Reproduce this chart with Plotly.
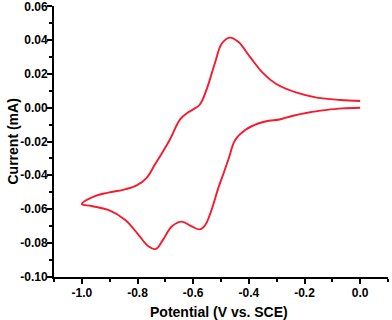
import plotly.graph_objects as go

# Cyclic voltammogram: cathodic sweep (0 -> -1.0 V) then anodic sweep (-1.0 -> 0 V)
potential_fwd = [0.0, -0.065, -0.125, -0.185, -0.245, -0.29, -0.328, -0.364, -0.413,
                 -0.449, -0.472, -0.49, -0.508, -0.538, -0.556, -0.575, -0.605, -0.641,
                 -0.677, -0.708, -0.734, -0.761, -0.797, -0.845, -0.905, -0.965, -1.0]
current_fwd = [0.0, -0.0004, -0.0014, -0.0028, -0.0049, -0.0070, -0.0077, -0.0092, -0.0132,
               -0.0191, -0.0299, -0.0385, -0.0467, -0.0624, -0.0693, -0.0720, -0.0703, -0.0674,
               -0.0703, -0.0781, -0.0836, -0.0820, -0.0751, -0.0663, -0.0605, -0.0582, -0.0570]

potential_rev = [-0.953, -0.905, -0.845, -0.803, -0.767, -0.737, -0.72, -0.683, -0.647,
                 -0.620, -0.600, -0.576, -0.552, -0.522, -0.497, -0.468, -0.438, -0.396, -0.348,
                 -0.303, -0.228, -0.156, -0.072, 0.0]
current_rev = [-0.0523, -0.0503, -0.0483, -0.0460, -0.0415, -0.0335, -0.0290, -0.0187, -0.0069,
               -0.0030, -0.0010, 0.0019, 0.0107, 0.0263, 0.0380, 0.0415, 0.0390, 0.0301, 0.0203,
               0.0142, 0.0089, 0.0060, 0.0046, 0.0040]

x_tickvals = [-1.0, -0.8, -0.6, -0.4, -0.2, 0.0]
x_ticktext = ["-1.0", "-0.8", "-0.6", "-0.4", "-0.2", "0.0"]
y_tickvals = [0.06, 0.04, 0.02, 0.00, -0.02, -0.04, -0.06, -0.08, -0.10]
y_ticktext = ["0.06", "0.04", "0.02", "0.00", "-0.02", "-0.04", "-0.06", "-0.08", "-0.10"]

x_title = "Potential (V vs. SCE)"
y_title = "Current (mA)"

FONT = "Liberation Sans, Arial, sans-serif"
W, H = 392, 320
ML, MR, MT, MB = 54, 4, 6, 43
PW, PH = W - ML - MR, H - MT - MB

fig = go.Figure()
fig.add_trace(go.Scatter(
    x=potential_fwd + potential_rev,
    y=current_fwd + current_rev,
    mode="lines",
    line=dict(color="#F81A2C", width=1.9, shape="spline", smoothing=1.1),
    showlegend=False,
    hoverinfo="skip",
))

axis_common = dict(
    showgrid=False, zeroline=False, showline=True, linecolor="black", linewidth=2,
    ticks="outside", ticklen=5, tickwidth=1.5, tickcolor="black",
    tickfont=dict(family=FONT, size=12, color="black", weight="bold"),
    mirror=False, automargin=False, ticklabeloverflow="allow",
)

title_font = dict(family=FONT, size=14, color="black", weight="bold")

fig.update_layout(
    width=W, height=H,
    margin=dict(l=ML, r=MR, t=MT, b=MB, autoexpand=False),
    paper_bgcolor="white", plot_bgcolor="white",
    xaxis=dict(
        range=[-1.1, 0.1], tickmode="array", tickvals=x_tickvals, ticktext=x_ticktext,
        minor=dict(ticks="outside", ticklen=3, tickwidth=1.5, tickcolor="black", dtick=0.1, tick0=0),
        ticklabelstandoff=-1,
        **axis_common,
    ),
    yaxis=dict(
        range=[-0.1002, 0.0602], tickmode="array", tickvals=y_tickvals, ticktext=y_ticktext,
        minor=dict(ticks="outside", ticklen=3, tickwidth=1.5, tickcolor="black", dtick=0.01, tick0=0),
        ticklabelstandoff=-3,
        **axis_common,
    ),
    annotations=[
        dict(text=x_title, xref="paper", yref="paper", x=0.5 - 2 / PW, y=-35 / PH,
             xanchor="center", yanchor="middle", showarrow=False, font=title_font),
        dict(text=y_title, xref="paper", yref="paper", x=-42 / PW, y=0.5,
             xanchor="center", yanchor="middle", showarrow=False, textangle=-90, font=title_font),
    ],
)

fig.write_html(
    "out.html",
    config={"displayModeBar": False},
    post_script="document.body.style.margin='0';document.body.style.padding='0';",
)
